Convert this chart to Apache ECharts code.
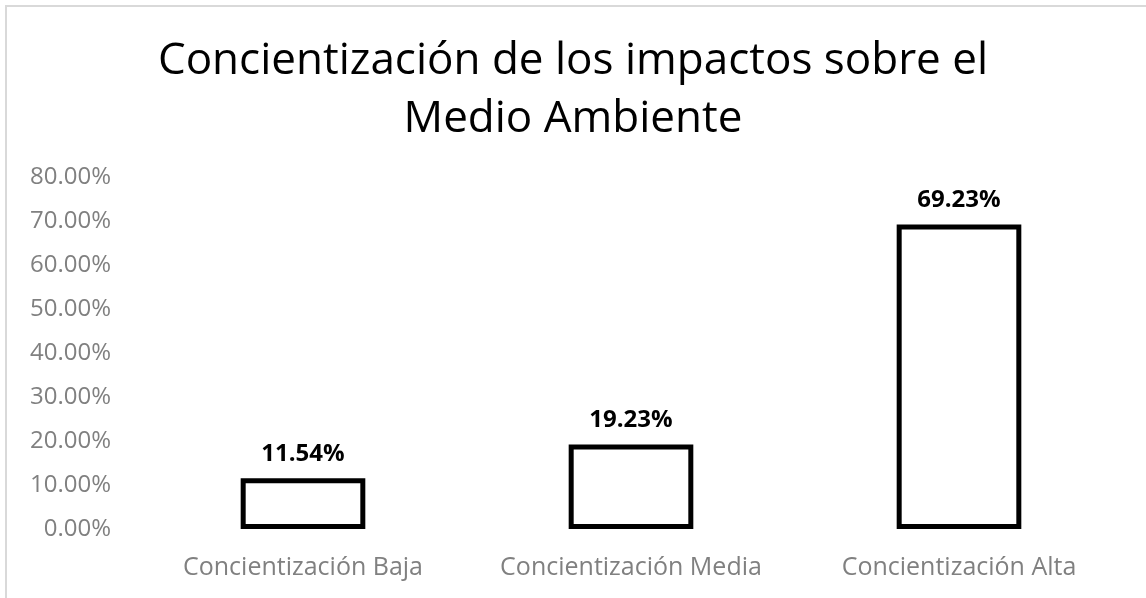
<!DOCTYPE html>
<html>
<head>
<meta charset="utf-8">
<script src="https://cdn.jsdelivr.net/npm/echarts@6/dist/echarts.min.js"></script>
<style>
  html, body { margin: 0; padding: 0; background: #fff; }
  #frame { position: absolute; left: 5px; top: 5px; width: 1200px; height: 700px;
           border-left: 2px solid #d9d9d9; border-top: 2px solid #d9d9d9; }
  #main { position: absolute; left: 0; top: 0; width: 1146px; height: 598px; }
</style>
</head>
<body>
<div id="frame"></div>
<div id="main"></div>
<script>
// datos
const categorias = ['Concientización Baja', 'Concientización Media', 'Concientización Alta'];
const valores = [11.54, 19.23, 69.23];
const titulo = 'Concientización de los impactos sobre el\nMedio Ambiente';

const chart = echarts.init(document.getElementById('main'));
const fuente = 'Open Sans';

chart.setOption({
  animation: false,
  title: {
    text: titulo,
    left: 'center',
    top: 27,
    textStyle: { fontFamily: fuente, fontWeight: 'normal', fontSize: 44, color: '#000', lineHeight: 58 }
  },
  grid: { left: 139, right: 23, top: 177, bottom: 69 },
  xAxis: {
    type: 'category',
    data: categorias,
    axisLine: { show: false },
    axisTick: { show: false },
    axisLabel: { interval: 0, hideOverlap: false, fontFamily: fuente, fontSize: 25, color: '#808080', margin: 26 }
  },
  yAxis: {
    type: 'value',
    min: 0,
    max: 80,
    interval: 10,
    splitLine: { show: false },
    axisLine: { show: false },
    axisLabel: {
      fontFamily: fuente, fontSize: 24, color: '#808080', margin: 28,
      formatter: v => v.toFixed(2) + '%'
    }
  },
  series: [{
    type: 'bar',
    data: valores,
    barWidth: '38%',
    itemStyle: { color: '#fff', borderColor: '#000', borderWidth: 5 },
    label: {
      show: true,
      position: 'top',
      distance: 12,
      fontFamily: fuente,
      fontWeight: 'bold',
      fontSize: 24,
      color: '#000',
      formatter: p => p.value.toFixed(2) + '%'
    }
  }]
});
</script>
</body>
</html>
